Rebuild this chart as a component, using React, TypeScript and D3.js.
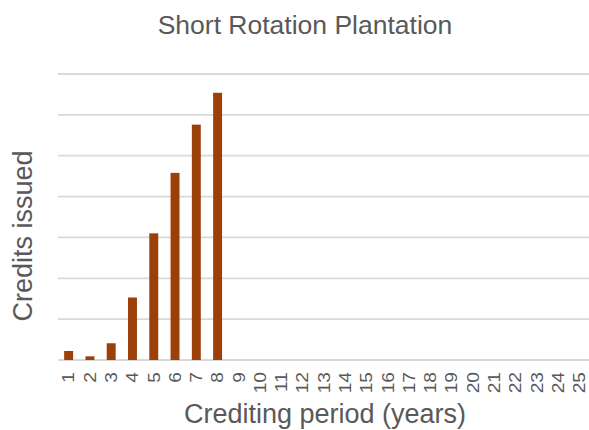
import React, { useRef, useEffect } from "react";
import * as d3 from "d3";

// crediting years 1..25
const years = d3.range(1, 26).map(String);
// credits issued per year (only the first 8 years issue credits)
const credits = [2200, 900, 4100, 15300, 31000, 45800, 57600, 65400, 0, 0, 0, 0, 0, 0, 0, 0, 0, 0, 0, 0, 0, 0, 0, 0, 0];
const gridTicks = [0, 10000, 20000, 30000, 40000, 50000, 60000, 70000];

const title = "Short Rotation Plantation";
const xTitle = "Crediting period (years)";
const yTitle = "Credits issued";

export default function App() {
  const ref = useRef<SVGSVGElement>(null);
  const width = 589;
  const height = 430;

  useEffect(() => {
    const svg = d3.select(ref.current);
    svg.selectAll("*").remove();

    const margin = { top: 74, right: 0, bottom: 70, left: 58 };
    const font = "Liberation Sans, Arial, Helvetica, sans-serif";
    const textColor = "#595959";

    const x = d3
      .scaleBand()
      .domain(years)
      .range([margin.left, width - margin.right + 1])
      .paddingInner(0.58)
      .paddingOuter(0.29);

    const y = d3
      .scaleLinear()
      .domain([0, 70000])
      .range([height - margin.bottom, margin.top]);

    // gridlines
    svg
      .append("g")
      .selectAll("line")
      .data(gridTicks)
      .enter()
      .append("line")
      .attr("x1", margin.left)
      .attr("x2", width)
      .attr("y1", (d) => y(d))
      .attr("y2", (d) => y(d))
      .attr("stroke", "#d9d9d9")
      .attr("stroke-width", 1.8);

    // bars
    svg
      .append("g")
      .selectAll("rect")
      .data(credits)
      .enter()
      .filter((d) => d > 0)
      .append("rect")
      .attr("x", (_, i) => x(years[i]) as number)
      .attr("width", x.bandwidth())
      .attr("y", (d) => y(d))
      .attr("height", (d) => y(0) - y(d))
      .attr("fill", "#9c3f08");

    // x tick labels, rotated (slightly stretched along the text like the original)
    svg
      .append("g")
      .selectAll("text")
      .data(years)
      .enter()
      .append("text")
      .attr("transform", (d) => `translate(${(x(d) as number) + x.bandwidth() / 2},372) rotate(-90) scale(1.2,1)`)
      .attr("text-anchor", "end")
      .attr("dy", "0.36em")
      .attr("font-family", font)
      .attr("font-size", 16)
      .attr("fill", textColor)
      .text((d) => d);

    // titles
    svg
      .append("text")
      .attr("x", 305)
      .attr("y", 34)
      .attr("text-anchor", "middle")
      .attr("font-family", font)
      .attr("font-size", 26.5)
      .attr("fill", textColor)
      .text(title);

    svg
      .append("text")
      .attr("x", 325)
      .attr("y", 423)
      .attr("text-anchor", "middle")
      .attr("font-family", font)
      .attr("font-size", 27)
      .attr("fill", textColor)
      .text(xTitle);

    svg
      .append("text")
      .attr("transform", "translate(32,236) rotate(-90)")
      .attr("text-anchor", "middle")
      .attr("font-family", font)
      .attr("font-size", 27)
      .attr("fill", textColor)
      .text(yTitle);
  }, []);

  return (
    <svg
      ref={ref}
      width={width}
      height={height}
      style={{ position: "absolute", left: 0, top: 0, background: "#fff" }}
    />
  );
}
